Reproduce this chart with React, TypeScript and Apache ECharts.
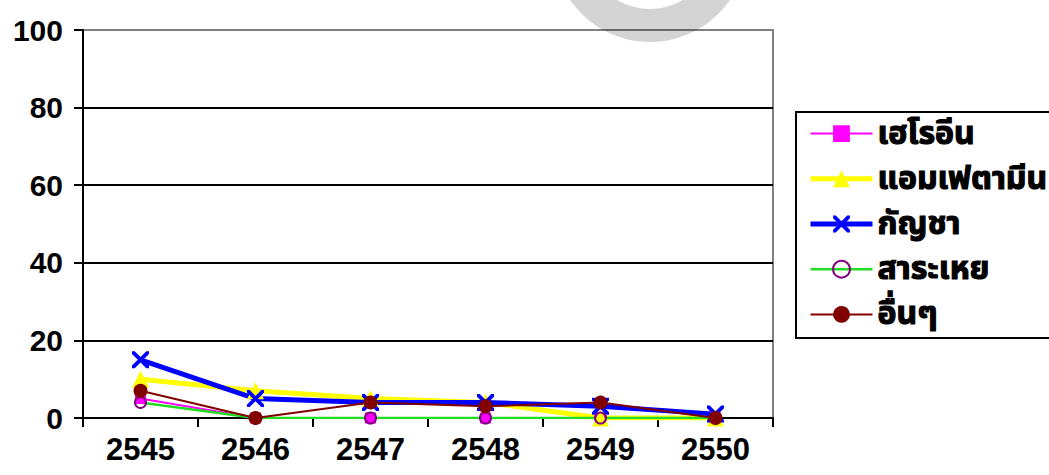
import React, { useEffect, useRef } from "react";
import * as echarts from "echarts";

const years = ["2545", "2546", "2547", "2548", "2549", "2550"];
const yTicks = [0, 20, 40, 60, 80, 100];
const heroin = [5, 0, 0, 0, 0, 0];
const amphetamine = [10, 7, 5, 4, 0, 0];
const cannabis = [15, 5, 4, 4, 3, 1];
const inhalants = [4, 0, 0, 0, 0, 0];
const others = [7, 0, 4, 3, 4, 0];
const seriesNames = ["เฮโรอีน", "แอมเฟตามีน", "กัญชา", "สาระเหย", "อื่นๆ"];
const colors = ["#ff00ff", "#ffff00", "#0000ff", "#22dd22", "#800000"];
const lineWidths = [2, 5, 5, 2.5, 2];

const X_PATH =
  "path://M0,0L1.6,0L10,8.4L10,10L8.4,10L0,1.6ZM8.4,0L10,0L10,1.6L1.6,10L0,10L0,8.4Z";

const FONT = "'Liberation Sans', Arial, sans-serif";
const THAI_FONT = "'Noto Sans Thai', Tahoma, 'DejaVu Sans', sans-serif";

export default function App() {
  const ref = useRef<HTMLDivElement>(null);
  useEffect(() => {
    if (!ref.current) return;
    const chart = echarts.init(ref.current, undefined, { renderer: "svg" });
    chart.setOption({
      animation: false,
      backgroundColor: "#ffffff",
      grid: {
        left: 83,
        right: 276,
        top: 30,
        bottom: 57,
        show: true,
        borderColor: "#808080",
        borderWidth: 2,
      },
      xAxis: {
        type: "category",
        data: years,
        boundaryGap: true,
        axisLine: { show: true, lineStyle: { color: "#000", width: 2 } },
        axisTick: { show: true, length: 9, lineStyle: { color: "#000", width: 2 } },
        axisLabel: {
          color: "#000",
          fontSize: 31,
          fontWeight: "bold",
          fontFamily: FONT,
          margin: 16,
        },
        splitLine: { show: false },
      },
      yAxis: {
        type: "value",
        min: yTicks[0],
        max: yTicks[yTicks.length - 1],
        interval: 20,
        axisLine: { show: true, lineStyle: { color: "#000", width: 2 } },
        axisTick: { show: true, length: 9, lineStyle: { color: "#000", width: 2 } },
        axisLabel: {
          color: "#000",
          fontSize: 30,
          fontWeight: "bold",
          fontFamily: FONT,
          margin: 20,
        },
        splitLine: {
          show: true,
          lineStyle: {
            color: ["#000", "#000", "#000", "#000", "#000", "#808080"],
            width: 2,
          },
        },
      },
      legend: {
        orient: "vertical",
        left: 803,
        top: 112,
        itemWidth: 62,
        itemHeight: 21,
        itemGap: 12,
        textStyle: {
          color: "#000",
          fontSize: 32,
          lineHeight: 31,
          fontWeight: "bold",
          fontFamily: THAI_FONT,
          textBorderColor: "#000",
          textBorderWidth: 1.2,
        },
        data: seriesNames.map((n, i) => ({
          name: n,
          lineStyle: { width: lineWidths[i], color: colors[i] },
        })),
      },
      graphic: [
        {
          type: "rect",
          shape: { x: 796, y: 112, width: 300, height: 226 },
          style: { fill: "none", stroke: "#000", lineWidth: 2 },
          silent: true,
          z: 10,
        },
        {
          type: "ring",
          shape: { cx: 650, cy: -55, r: 97, r0: 64 },
          style: { fill: "rgba(0,0,0,0.17)" },
          silent: true,
          z: 100,
        },
      ],
      series: [
        {
          name: seriesNames[0],
          type: "line",
          data: heroin,
          symbol: "rect",
          symbolSize: 11,
          lineStyle: { color: colors[0], width: lineWidths[0] },
          itemStyle: { color: colors[0] },
        },
        {
          name: seriesNames[1],
          type: "line",
          data: amphetamine,
          symbol: "triangle",
          symbolSize: 17,
          lineStyle: { color: colors[1], width: lineWidths[1] },
          itemStyle: { color: colors[1] },
        },
        {
          name: seriesNames[2],
          type: "line",
          data: cannabis,
          symbol: X_PATH,
          symbolSize: 17,
          lineStyle: { color: colors[2], width: lineWidths[2] },
          itemStyle: { color: colors[2] },
        },
        {
          name: seriesNames[3],
          type: "line",
          data: inhalants,
          symbol: "circle",
          symbolSize: 11,
          lineStyle: { color: colors[3], width: lineWidths[3] },
          itemStyle: { color: "rgba(255,255,255,0)", borderColor: "#800080", borderWidth: 2 },
        },
        {
          name: seriesNames[4],
          type: "line",
          data: others,
          symbol: "circle",
          symbolSize: 14,
          lineStyle: { color: colors[4], width: lineWidths[4] },
          itemStyle: { color: colors[4] },
        },
      ],
    });
    return () => chart.dispose();
  }, []);
  return (
    <div
      ref={ref}
      style={{ position: "fixed", left: 0, top: 0, width: 1049, height: 475 }}
    />
  );
}
